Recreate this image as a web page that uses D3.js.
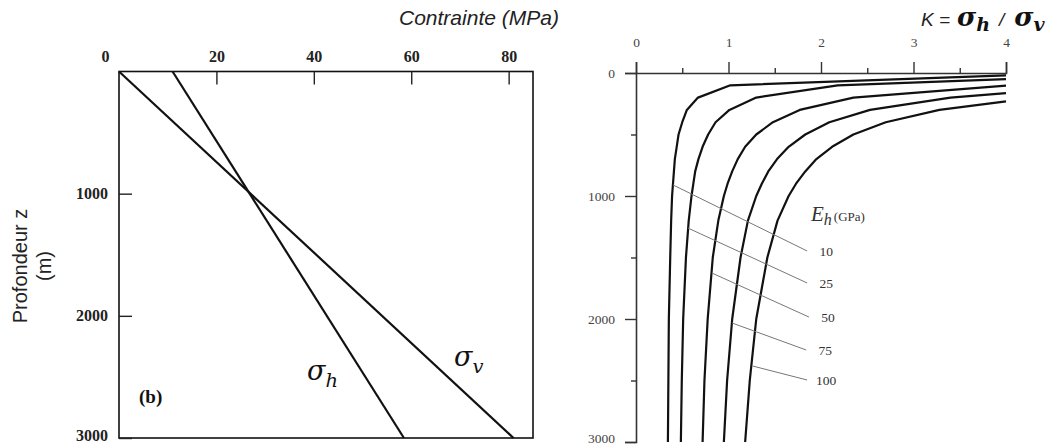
<!DOCTYPE html>
<html>
<head>
<meta charset="utf-8">
<script src="https://cdn.jsdelivr.net/npm/d3@7"></script>
<style>
  body { margin: 0; background: #fff; }
  svg { display: block; }
</style>
</head>
<body>
<div id="chart"></div>
<script>
// left panel : stresses (MPa) against depth (m)
var stressDepths = [0, 3000];
var sigmaV = [0, 81];
var sigmaH = [11, 58.5];
var stressTicks = [0, 20, 40, 60, 80];
var leftDepthTicks = [1000, 2000, 3000];

// right panel : K = sigma_h / sigma_v against depth, one curve per Eh
var moduli = ["10", "25", "50", "75", "100"];
var depthsEh10 = [19, 100, 200, 300, 400, 500, 600, 700, 800, 900, 1000, 1200, 1500, 2000, 2500, 3000];
var kEh10 = [4.0, 1.02, 0.67, 0.55, 0.5, 0.46, 0.44, 0.42, 0.41, 0.4, 0.39, 0.38, 0.37, 0.355, 0.35, 0.345];
var depthsEh25 = [49, 100, 200, 300, 400, 500, 600, 700, 800, 900, 1000, 1200, 1500, 2000, 2500, 3000];
var kEh25 = [4.0, 2.18, 1.3, 1.01, 0.86, 0.78, 0.72, 0.675, 0.64, 0.62, 0.6, 0.57, 0.54, 0.51, 0.495, 0.485];
var depthsEh50 = [103, 200, 300, 400, 500, 600, 700, 800, 900, 1000, 1200, 1500, 2000, 2500, 3000];
var kEh50 = [4.0, 2.35, 1.77, 1.48, 1.3, 1.18, 1.1, 1.04, 0.99, 0.95, 0.89, 0.83, 0.775, 0.74, 0.72];
var depthsEh75 = [163, 200, 300, 400, 500, 600, 700, 800, 900, 1000, 1200, 1500, 2000, 2500, 3000];
var kEh75 = [4.0, 3.4, 2.53, 2.09, 1.83, 1.65, 1.525, 1.43, 1.36, 1.3, 1.21, 1.13, 1.04, 0.985, 0.95];
var depthsEh100 = [230, 300, 400, 500, 600, 700, 800, 900, 1000, 1200, 1500, 2000, 2500, 3000];
var kEh100 = [4.0, 3.28, 2.7, 2.35, 2.12, 1.95, 1.83, 1.73, 1.65, 1.53, 1.42, 1.3, 1.23, 1.18];
// leader lines of the Eh labels : [K, depth] on the curve -> [K, depth] at the label
var leaderStart = [[0.40, 910], [0.56, 1260], [0.82, 1626], [1.04, 2033], [1.26, 2382]];
var leaderEnd = [[1.85, 1447], [1.85, 1707], [1.87, 1984], [1.84, 2252], [1.85, 2496]];
var kTicks = [0, 0.5, 1, 1.5, 2, 2.5, 3, 3.5, 4];
var rightDepthTicks = [0, 500, 1000, 1500, 2000, 2500, 3000];

window.onload = function() {
  var width = 1051, height = 447;
  var svg = d3.select("#chart").append("svg")
    .attr("width", width)
    .attr("height", height);

  drawStress(svg);
  drawRatio(svg);
  drawTitles(svg);
};

function drawStress(svg) {
  var x = d3.scaleLinear().domain([0, 85]).range([119, 533]);
  var y = d3.scaleLinear().domain([0, 3000]).range([71.5, 438]);
  var g = svg.append("g");

  g.append("rect")
    .attr("x", x(0)).attr("y", y(0))
    .attr("width", x(85) - x(0)).attr("height", y(3000) - y(0))
    .attr("fill", "none").attr("stroke", "#111").attr("stroke-width", 1.6);

  var top = g.append("g")
    .attr("transform", "translate(0," + y(0) + ")")
    .call(d3.axisTop(x).tickValues(stressTicks).tickSizeInner(-13).tickSizeOuter(0).tickPadding(10));
  var left = g.append("g")
    .attr("transform", "translate(" + x(0) + ",0)")
    .call(d3.axisLeft(y).tickValues(leftDepthTicks).tickFormat(d3.format("d"))
      .tickSizeInner(-13).tickSizeOuter(0).tickPadding(11));
  [top, left].forEach(function(a) {
    a.select(".domain").remove();
    a.selectAll("line").attr("stroke", "#222").attr("stroke-width", 1.4);
    a.selectAll("text")
      .attr("fill", "#222")
      .style("font-family", "'Liberation Serif', serif")
      .style("font-weight", "bold")
      .style("font-size", "16px");
  });
  // the 0 sits at the corner, left of the frame
  top.selectAll(".tick").filter(function(d) { return d === 0; })
    .select("text").attr("x", -14);
  top.selectAll(".tick").filter(function(d) { return d === 0; })
    .select("line").remove();
  left.selectAll(".tick").filter(function(d) { return d === 3000; })
    .select("text").attr("y", -3);

  var line = d3.line().x(function(d) { return x(d[0]); }).y(function(d) { return y(d[1]); });
  [sigmaV, sigmaH].forEach(function(s) {
    g.append("path")
      .datum(d3.zip(s, stressDepths))
      .attr("d", line)
      .attr("fill", "none").attr("stroke", "#111").attr("stroke-width", 2.2);
  });

  g.append("text").attr("x", 139).attr("y", 403)
    .style("font-family", "'Liberation Serif', serif").style("font-weight", "bold")
    .style("font-size", "19px").attr("fill", "#111").text("(b)");

  sigma(g, 307, 380, "h", 27);
  sigma(g, 454, 366, "v", 27);
}

function sigma(g, px, py, sub, size) {
  var t = g.append("text").attr("x", px).attr("y", py)
    .style("font-family", "'DejaVu Serif', serif").style("font-style", "italic")
    .style("font-size", size + "px").attr("fill", "#111");
  t.append("tspan").text("σ");
  t.append("tspan").attr("dy", size * 0.25).style("font-size", (size * 0.72) + "px").text(sub);
  return t;
}

function drawRatio(svg) {
  var x = d3.scaleLinear().domain([0, 4]).range([636, 1006]);
  var y = d3.scaleLinear().domain([0, 3000]).range([73, 442]);
  var g = svg.append("g");

  var top = g.append("g")
    .attr("transform", "translate(0," + y(0) + ")")
    .call(d3.axisTop(x).tickValues(kTicks).tickSize(11).tickPadding(15)
      .tickFormat(function(d) { return d % 1 === 0 ? d : ""; }));
  var left = g.append("g")
    .attr("transform", "translate(" + x(0) + ",0)")
    .call(d3.axisLeft(y).tickValues(rightDepthTicks).tickSize(11).tickPadding(10)
      .tickFormat(function(d) { return d % 1000 === 0 ? d : ""; }));
  [top, left].forEach(function(a) {
    a.select(".domain").attr("stroke", "#333").attr("stroke-width", 1.6);
    a.selectAll("line").attr("stroke", "#333").attr("stroke-width", 1.4);
    a.selectAll("text")
      .attr("fill", "#444")
      .style("font-family", "'Liberation Serif', serif")
      .style("font-size", "13.5px");
  });
  top.selectAll(".tick").filter(function(d) { return d % 1 !== 0; })
    .select("line").attr("y2", -5);
  left.selectAll(".tick").filter(function(d) { return d % 1000 !== 0; })
    .select("line").attr("x2", -5);
  left.selectAll(".tick").filter(function(d) { return d === 3000; })
    .select("text").attr("y", -4);

  var curves = [
    d3.zip(kEh10, depthsEh10),
    d3.zip(kEh25, depthsEh25),
    d3.zip(kEh50, depthsEh50),
    d3.zip(kEh75, depthsEh75),
    d3.zip(kEh100, depthsEh100)
  ];
  var line = d3.line().x(function(d) { return x(d[0]); }).y(function(d) { return y(d[1]); });
  g.selectAll("path.curve").data(curves).join("path")
    .attr("class", "curve")
    .attr("d", line)
    .attr("fill", "none").attr("stroke", "#111").attr("stroke-width", 2.2)
    .attr("stroke-linejoin", "round");

  // leader lines and labels
  moduli.forEach(function(m, i) {
    var a = leaderStart[i], b = leaderEnd[i];
    g.append("line")
      .attr("x1", x(a[0])).attr("y1", y(a[1]))
      .attr("x2", x(b[0])).attr("y2", y(b[1]))
      .attr("stroke", "#777").attr("stroke-width", 1);
    g.append("text")
      .attr("x", x(b[0]) + 19).attr("y", y(b[1]) + 2)
      .attr("text-anchor", "middle").attr("dominant-baseline", "middle")
      .style("font-family", "'Liberation Serif', serif").style("font-size", "13.5px")
      .attr("fill", "#333").text(m);
  });

  var eh = g.append("text").attr("x", 811).attr("y", 221)
    .style("font-family", "'Liberation Serif', serif").attr("fill", "#333");
  eh.append("tspan").style("font-style", "italic").style("font-size", "21px").text("E");
  eh.append("tspan").attr("dy", 4).style("font-style", "italic").style("font-size", "16px").text("h");
  eh.append("tspan").attr("dy", -4).attr("dx", 2).style("font-size", "13px").text("(GPa)");
}

function drawTitles(svg) {
  svg.append("text").attr("x", 399).attr("y", 25)
    .style("font-family", "'Liberation Sans', Arial, sans-serif").style("font-style", "italic")
    .style("font-size", "21px").attr("fill", "#222").text("Contrainte (MPa)");

  var k = svg.append("text").attr("x", 921).attr("y", 26)
    .style("font-family", "'Liberation Sans', Arial, sans-serif").style("font-style", "italic")
    .style("font-size", "19px").attr("fill", "#222");
  k.append("tspan").text("K =");
  var mathFont = "'DejaVu Serif', serif";
  k.append("tspan").attr("dx", 7).style("font-family", mathFont).style("font-size", "26px")
    .style("font-weight", "bold").attr("fill", "#111").text("σ");
  k.append("tspan").attr("dy", 5).style("font-family", mathFont).style("font-size", "19px")
    .style("font-weight", "bold").attr("fill", "#111").text("h");
  k.append("tspan").attr("dy", -5).attr("dx", 9).text("/");
  k.append("tspan").attr("dx", 10).style("font-family", mathFont).style("font-size", "26px")
    .style("font-weight", "bold").attr("fill", "#111").text("σ");
  k.append("tspan").attr("dy", 5).style("font-family", mathFont).style("font-size", "19px")
    .style("font-weight", "bold").attr("fill", "#111").text("v");

  var p = svg.append("text")
    .attr("transform", "translate(27,266) rotate(-90)")
    .attr("text-anchor", "middle")
    .style("font-family", "'Liberation Sans', Arial, sans-serif")
    .style("font-size", "20px").attr("fill", "#222");
  p.append("tspan").attr("x", 0).attr("y", 0).text("Profondeur z");
  p.append("tspan").attr("x", 0).attr("y", 24).text("(m)");
}
</script>
</body>
</html>
